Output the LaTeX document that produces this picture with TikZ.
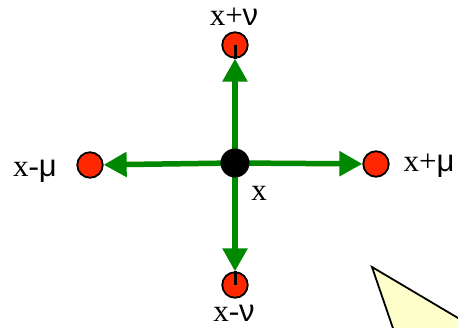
\documentclass[tikz,border=0pt]{standalone}
\usepackage{fontspec}
\setmainfont{Liberation Serif}
\newfontfamily\greekfont{Liberation Sans}
\usepackage{tikz}
\usetikzlibrary{arrows.meta,positioning}
\definecolor{sitered}{RGB}{255,40,0}
\definecolor{hopgreen}{RGB}{0,136,0}
\definecolor{notepaper}{RGB}{255,255,204}

\begin{document}
\begin{tikzpicture}[x=1pt, y=-1pt,
  site/.style={circle, draw=black, line width=1.8pt, fill=sitered, minimum size=25.5pt, inner sep=0pt},
  centre/.style={circle, fill=black, minimum size=29pt, inner sep=0pt},
  hop/.style={-{Triangle[length=23pt,width=24pt]}, line width=5.5pt, hopgreen},
  lbl/.style={anchor=base, inner sep=0pt, font=\fontsize{31}{32}\selectfont}]
\useasboundingbox (0,0) rectangle (458,328);
\begin{scope}
\clip (0,0) rectangle (458,328);
\draw[fill=notepaper, line width=1.8pt] (372,267) -- (485,334) -- (397,340) -- cycle;
\end{scope}
\node[site] (Pnu) at (235,45) {};
\node[site] (Mnu) at (235,285) {};
\node[site] (Mmu) at (90,165) {};
\node[site] (Pmu) at (376,164) {};
\draw[line width=3pt] (Pnu.center) -- (Pnu.south);
\draw[line width=3pt] (Mnu.north) -- (Mnu.center);
\draw[hop] (235,163) -- (Pnu);
\draw[hop] (235,163) -- (Mnu);
\draw[hop] (235,163) -- (Mmu);
\draw[hop] (235,163) -- (Pmu);
\node[centre] (X) at (235,163) {};
% labels
\node[lbl] (tPnu) at (234,26) {x+{\greekfont ν}};
\node[lbl] (tMnu) at (234,322) {x-{\greekfont ν}};
\node[lbl] (tMmu) at (35,177) {x-{\greekfont μ}};
\node[lbl] (tPmu) at (429,172) {x+{\greekfont μ}};
\node[lbl] (tX) at (259,201) {x};
\end{tikzpicture}
\end{document}
